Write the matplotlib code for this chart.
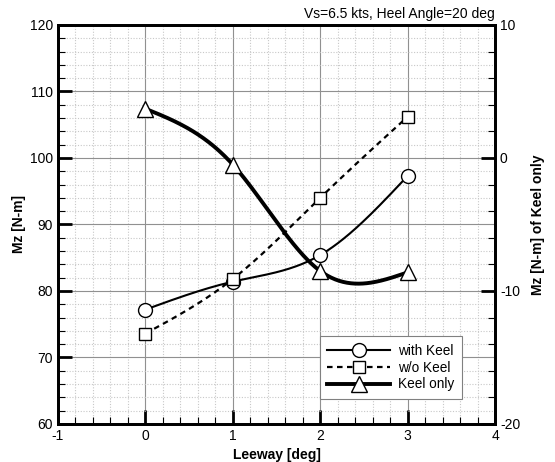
import numpy as np
import matplotlib
matplotlib.use('Agg')
import matplotlib.pyplot as plt
from matplotlib.ticker import MultipleLocator

plt.rcParams['font.family'] = ['Liberation Sans', 'DejaVu Sans']
plt.rcParams['axes.unicode_minus'] = False

# data
leeway = [0, 1, 2, 3]
mz_with_keel = [77.2, 81.4, 85.4, 97.3]
mz_without_keel = [73.6, 81.8, 94.0, 106.2]
mz_keel_only = [3.7, -0.5, -8.5, -8.6]   # right axis


def spline(x, y, n=200):
    # natural cubic spline, the original plot draws smooth curves
    x = np.asarray(x, float)
    y = np.asarray(y, float)
    k = len(x)
    h = np.diff(x)
    A = np.zeros((k, k))
    b = np.zeros(k)
    A[0, 0] = A[-1, -1] = 1
    for i in range(1, k - 1):
        A[i, i - 1] = h[i - 1]
        A[i, i] = 2 * (h[i - 1] + h[i])
        A[i, i + 1] = h[i]
        b[i] = 6 * ((y[i + 1] - y[i]) / h[i] - (y[i] - y[i - 1]) / h[i - 1])
    m = np.linalg.solve(A, b)
    xs = np.linspace(x[0], x[-1], n)
    idx = np.clip(np.searchsorted(x, xs) - 1, 0, k - 2)
    t = xs - x[idx]
    hi = h[idx]
    a = y[idx]
    bb = (y[idx + 1] - y[idx]) / hi - hi * (2 * m[idx] + m[idx + 1]) / 6
    c = m[idx] / 2
    d = (m[idx + 1] - m[idx]) / (6 * hi)
    return xs, a + bb * t + c * t ** 2 + d * t ** 3


fig = plt.figure(figsize=(5.55, 4.62), dpi=100)
ax = fig.add_axes([0.1045, 0.0823, 0.7875, 0.8637])
ax2 = ax.twinx()

ax.set_xlim(-1, 4)
ax.set_ylim(60, 120)
ax2.set_ylim(-20, 10)

ax.xaxis.set_major_locator(MultipleLocator(1))
ax.xaxis.set_minor_locator(MultipleLocator(0.2))
ax.yaxis.set_major_locator(MultipleLocator(10))
ax.yaxis.set_minor_locator(MultipleLocator(2))
ax2.yaxis.set_major_locator(MultipleLocator(10))
ax2.yaxis.set_minor_locator(MultipleLocator(2))

ax.grid(which='major', color='#909090', lw=0.8)
ax.grid(which='minor', color='#c8c8c8', lw=0.8, ls=(0, (1, 1.5)))
ax.set_axisbelow(True)

ax.tick_params(which='major', direction='in', length=10, width=2, labelsize=10, top=False, right=False)
ax.tick_params(which='minor', direction='in', length=5, width=0.8, top=False, right=False)
ax2.tick_params(which='major', direction='in', length=10, width=2, labelsize=10)
ax2.tick_params(which='minor', direction='in', length=5, width=0.8)

for a in (ax, ax2):
    for s in a.spines.values():
        s.set_linewidth(2)

xs, ys = spline(leeway, mz_with_keel)
ax.plot(xs, ys, color='black', lw=1.5)
ax.plot(leeway, mz_with_keel, ls='none', marker='o', ms=10, mfc='white', mec='black', mew=1)

xs, ys = spline(leeway, mz_without_keel)
ax.plot(xs, ys, color='black', lw=1.6, ls=(0, (2.5, 2)))
ax.plot(leeway, mz_without_keel, ls='none', marker='s', ms=8, mfc='white', mec='black', mew=1)

xs, ys = spline(leeway, mz_keel_only)
ax2.plot(xs, ys, color='black', lw=2.8)
ax2.plot(leeway, mz_keel_only, ls='none', marker='^', ms=11, mfc='white', mec='black', mew=1)

h1 = plt.Line2D([], [], color='black', lw=1.5, marker='o', ms=10, mfc='white', mec='black')
h2 = plt.Line2D([], [], color='black', lw=1.6, ls=(0, (2.5, 2)), marker='s', ms=8, mfc='white', mec='black')
h3 = plt.Line2D([], [], color='black', lw=2.8, marker='^', ms=11, mfc='white', mec='black')
leg = ax2.legend([h1, h2, h3], ['with Keel', 'w/o Keel', 'Keel only'],
                 loc='lower right', bbox_to_anchor=(0.924, 0.063), fontsize=9.8,
                 handlelength=4.6, numpoints=1, fancybox=False, framealpha=1,
                 edgecolor='#808080', borderpad=0.55, labelspacing=0.2, handletextpad=0.6,
                 borderaxespad=0)
leg.get_frame().set_linewidth(0.8)

ax.set_xlabel('Leeway [deg]', fontsize=10, fontweight='bold', labelpad=4)
ax.set_ylabel('Mz [N-m]', fontsize=10, fontweight='bold', labelpad=3)
ax2.set_ylabel('Mz [N-m] of Keel only', fontsize=10, fontweight='bold', labelpad=8)
ax.set_title('Vs=6.5 kts, Heel Angle=20 deg', loc='right', fontsize=10, pad=5)

fig.savefig('out.png', dpi=100)
